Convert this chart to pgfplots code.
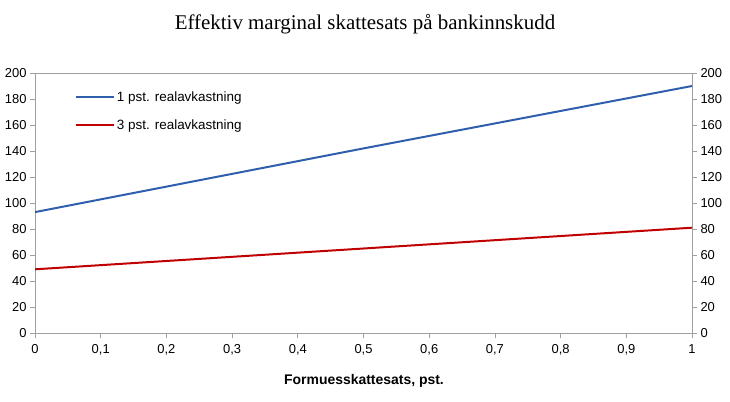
\documentclass[border=0pt]{standalone}
\usepackage{pgfplots}
\pgfplotsset{compat=1.18}
\usepackage{fontspec}
\setmainfont{Liberation Sans}
\newfontfamily\titlefont{Liberation Serif}
\definecolor{lblue}{RGB}{47,94,172}
\definecolor{lred}{RGB}{192,0,0}
\definecolor{axgray}{RGB}{160,160,160}
\begin{document}
\begin{tikzpicture}[x=1bp,y=1bp]
\path (0,0) rectangle (730,401);
\node at (365,377) {\titlefont\fontsize{21}{24}\selectfont Effektiv marginal skattesats på bankinnskudd};
\node at (364,20) {\fontsize{14}{16}\selectfont\bfseries Formuesskattesats, pst.};
\begin{axis}[
  at={(35bp,68bp)}, anchor=south west,
  scale only axis, width=657bp, height=260bp,
  xmin=0, xmax=1, ymin=0, ymax=200,
  xtick={0,0.1,...,1.01}, ytick={0,20,...,200},
  axis line style={axgray, line width=0.8pt},
  tick style={axgray, line width=0.8pt},
  tick align=outside, major tick length=5bp,
  xtick pos=bottom, ytick pos=left,
  ticklabel style={font=\fontsize{13}{15}\selectfont},
  xticklabel style={yshift=-3bp},
  /pgf/number format/assume math mode=true,
  /pgf/number format/use comma,
  /pgf/number format/fixed,
  scaled ticks=false,
  legend style={draw=none, fill=none, at={(0.056,0.945)}, anchor=north west, font=\fontsize{13.5}{15}\selectfont, row sep=13bp},
  legend cell align=left,
  legend image code/.code={\draw[#1, line width=2pt] (0bp,0bp) -- (38bp,0bp);},
]
\addplot[lblue, line width=2pt] coordinates {(0,93) (0.5,142) (1,190)};
\addlegendentry{1 pst. realavkastning}
\addplot[lred, line width=2pt] coordinates {(0,49) (0.5,65) (1,81)};
\addlegendentry{3 pst. realavkastning}
\end{axis}
\begin{axis}[
  at={(35bp,68bp)}, anchor=south west,
  scale only axis, width=657bp, height=260bp,
  xmin=0, xmax=1, ymin=0, ymax=200,
  ytick={0,20,...,200}, xtick=\empty,
  axis line style={draw=none},
  tick style={axgray, line width=0.8pt},
  tick align=outside, major tick length=5bp,
  ytick pos=right, yticklabel pos=right,
  ticklabel style={font=\fontsize{13}{15}\selectfont},
  /pgf/number format/assume math mode=true,
]
\end{axis}
\end{tikzpicture}
\end{document}
